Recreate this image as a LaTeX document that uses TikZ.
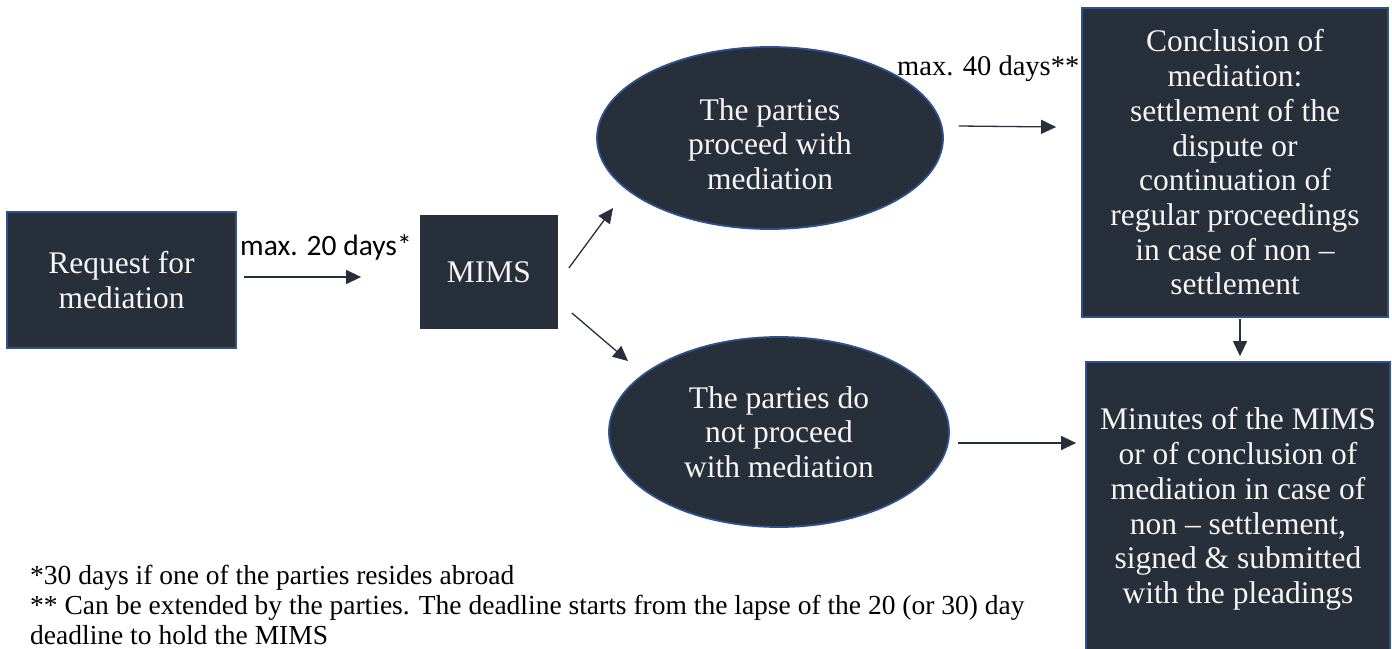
\documentclass[tikz,border=0pt]{standalone}
\usepackage{fontspec}
\setmainfont{Liberation Serif}
\newfontfamily\calib{Carlito}
\usetikzlibrary{arrows.meta,shapes.geometric}
\definecolor{boxfill}{RGB}{38,47,58}
\definecolor{boxedge}{RGB}{47,82,143}
\definecolor{boxtext}{RGB}{245,245,245}
\tikzset{
  boxfont/.style={text=boxtext, align=center, font={\fontsize{31.5}{34.7}\selectfont}},
  stepbox/.style={rectangle, fill=boxfill, draw=boxedge, line width=1.8pt, inner sep=0pt, boxfont},
  stepoval/.style={ellipse, fill=boxfill, draw=boxedge, line width=1.8pt, inner sep=0pt, boxfont},
  arr/.style={draw=boxfill, line width=1.3pt, -{Triangle[length=15pt,width=14pt]}},
  lbl/.style={inner sep=0pt, anchor=base west, text=black},
  note/.style={inner sep=0pt, anchor=base west, text=black, font={\fontsize{27.5}{30}\selectfont}}
}
\begin{document}
\begin{tikzpicture}[x=1pt,y=-1pt]
\useasboundingbox (0,0) rectangle (1392,648);
\node[stepbox, minimum width=229pt, minimum height=136pt] (req) at (121.5,280) {Request for\\mediation};
\node[stepbox, draw=none, minimum width=138pt, minimum height=114pt] (mims) at (489,272) {MIMS};
\node[stepoval, minimum width=346pt, minimum height=182pt,
  label={[boxfont, inner sep=0pt, yshift=-6pt]center:{The parties\\proceed with\\mediation}}] (top) at (770,138) {};
\node[stepoval, minimum width=340pt, minimum height=190pt] (bot) at (779,432) {The parties do\\not proceed\\with mediation};
\node[stepbox, minimum width=306pt, minimum height=309pt] (conc) at (1235,162.5) {Conclusion of\\mediation:\\settlement of the\\dispute or\\continuation of\\regular proceedings\\in case of non --\\settlement};
\node[stepbox, minimum width=304pt, minimum height=294pt] (mins) at (1238,509) {Minutes of the MIMS\\or of conclusion of\\mediation in case of\\non -- settlement,\\signed \& submitted\\with the pleadings};

\node[lbl, font={\calib\fontsize{29.5}{34}\selectfont}] (l20) at (240,255) {max. 20 days*};
\node[lbl, font={\fontsize{28.5}{34}\selectfont}] (l40) at (897,75) {max. 40 days**};

\draw[arr, shorten <=7pt, shorten >=58pt] ([yshift=3pt]req.east) -- ([yshift=-5pt]mims.west);
\draw[arr] ([xshift=10pt,yshift=4pt]mims.east) -- ([xshift=-157pt,yshift=-70pt]top.center);
\draw[arr] ([xshift=13pt,yshift=-41pt]mims.east) -- ([xshift=-151pt,yshift=71pt]bot.center);
\draw[arr] ([xshift=15pt,yshift=12pt]top.east) -- ([xshift=-25pt,yshift=35.5pt]conc.west);
\draw[arr] ([xshift=8pt,yshift=-11pt]bot.east) -- ([xshift=-9pt,yshift=66pt]mins.west);
\draw[arr, shorten <=1pt, shorten >=5pt] ([xshift=5pt]conc.south) -- ([xshift=2pt]mins.north);

\node[note] (n1) at (30,584) {*30 days if one of the parties resides abroad};
\node[note] (n2) at (30,614) {** Can be extended by the parties. The deadline starts from the lapse of the 20 (or 30) day};
\node[note] (n3) at (30,644) {deadline to hold the MIMS};
\end{tikzpicture}
\end{document}
